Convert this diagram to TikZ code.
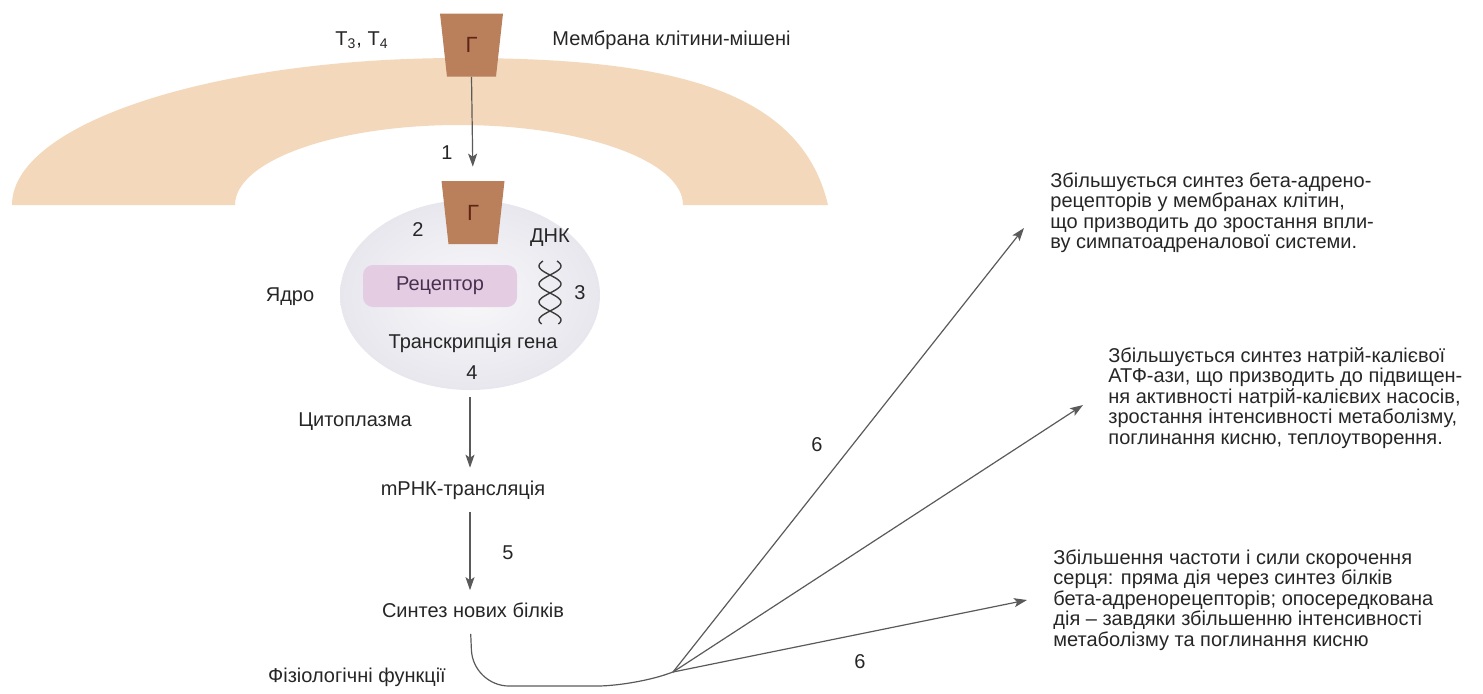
\documentclass[tikz,border=0pt]{standalone}
\usepackage{fontspec}
\setmainfont{Liberation Sans}
\usetikzlibrary{arrows.meta,shapes.geometric}

\definecolor{membr}{HTML}{F3D8BB}
\definecolor{horm}{HTML}{BA805C}
\definecolor{hormtxt}{HTML}{5E2514}
\definecolor{recfill}{HTML}{E4CDE3}
\definecolor{rectxt}{HTML}{4B2F50}
\definecolor{txt}{HTML}{262626}
\definecolor{linec}{HTML}{5A5A5A}
\definecolor{nucin}{HTML}{F8F8FA}
\definecolor{nucout}{HTML}{E8E7EE}

\tikzset{
  lbl/.style={font=\fontsize{10}{10.25}\selectfont, text=txt, inner sep=0pt},
  note/.style={lbl, align=left, anchor=west},
  tip/.style={-{Stealth[length=6.5pt,width=4.5pt,inset=1.5pt]}},
  flow/.style={draw=linec, line width=0.6pt, tip},
  hormone/.style={trapezium, trapezium angle=83.6, shape border rotate=180,
    trapezium stretches=true, minimum width=31.5pt, minimum height=31.5pt,
    fill=horm, inner sep=0pt, text=hormtxt, font=\fontsize{11}{11}\selectfont},
  helix/.style={draw=txt!90, line width=0.7pt}
}

\begin{document}
\begin{tikzpicture}[x=0.5pt,y=-0.5pt]
\useasboundingbox (0,0) rectangle (1483,693);

% cell membrane band
\fill[membr] (12,205) arc[start angle=180, end angle=270, x radius=447, y radius=147]
  .. controls (660,58) and (800,85) .. (828,205)
  -- (683,205) arc[start angle=0, end angle=-180, x radius=224, y radius=80] -- cycle;

% nucleus
\node[ellipse, shade, inner color=nucin, outer color=nucout, minimum width=130pt,
  minimum height=95pt, inner sep=0pt] (nuc) at (470,295) {};

% hormone outside and inside the cell
\node[hormone] (h1) at (471.5,45) {Г};
\node[hormone] (h2) at (473,212.5) {Г};

% receptor
\node[fill=recfill, rounded corners=5pt, minimum width=77pt, minimum height=21pt,
  inner sep=0pt, text=rectxt, font=\fontsize{10}{10}\selectfont] (rec) at (440,286) {Рецептор};

% DNA double helix
\draw[helix, domain=261:324, samples=60, smooth, variable=\t]
  plot ({550+11*sin(180*(\t-275)/18)}, \t);
\draw[helix, domain=261:324, samples=60, smooth, variable=\t]
  plot ({550-11*sin(180*(\t-275)/18)}, \t);

% labels
\node[lbl] (t34) at (362,40) {T\textsubscript{3}, T\textsubscript{4}};
\node[lbl, anchor=west] (mem) at (552,40) {Мембрана клітини-мішені};
\node[lbl] (n1) at (447,153) {1};
\node[lbl] (n2) at (418,230) {2};
\node[lbl] (dna) at (550,238) {ДНК};
\node[lbl] (n3) at (580,293) {3};
\node[lbl] (core) at (290,297) {Ядро};
\node[lbl] (tr) at (473,343) {Транскрипція гена};
\node[lbl] (n4) at (472,373) {4};
\node[lbl] (cyto) at (355,422) {Цитоплазма};
\node[lbl] (mrna) at (463,490) {mРНК-трансляція};
\node[lbl] (n5) at (508,553) {5};
\node[lbl] (syn) at (473,610) {Синтез нових білків};
\node[lbl] (phys) at (357,677) {Фізіологічні функції};
\node[lbl] (n6a) at (817,445) {6};
\node[lbl] (n6b) at (860,662) {6};

% effect descriptions
\node[note] (e1) at (1050,212.5) {Збільшується синтез бета-адрено-\\рецепторів у мембранах клітин,\\що призводить до зростання впли-\\ву симпатоадреналової системи.};
\node[note] (e2) at (1108,398) {Збільшується синтез натрій-калієвої\\АТФ-ази, що призводить до підвищен-\\ня активності натрій-калієвих насосів,\\зростання інтенсивності метаболізму,\\поглинання кисню, теплоутворення.};
\node[note] (e3) at (1053,600) {Збільшення частоти і сили скорочення\\серця: пряма дія через синтез білків\\бета-адренорецепторів; опосередкована\\дія – завдяки збільшенню інтенсивності\\метаболізму та поглинання кисню};

% signalling pathway
\draw[flow, shorten >=7pt] (h1.south) -- (h2.north);
\draw[flow, shorten <=3.5pt, shorten >=6.3pt] (nuc.south) -- (mrna.north -| nuc.south);
\draw[flow, shorten <=6pt, shorten >=6pt] (mrna.south -| nuc.south) -- (syn.north -| nuc.south);

% branching to physiological effects
\coordinate (fan) at (673,672);
\coordinate (a1) at (1024,228);
\coordinate (a2) at (1083,405);
\coordinate (a3) at (1027,600);
\draw[draw=linec, line width=0.6pt, rounded corners=18pt, shorten <=8pt]
  (syn.south -| nuc.south) -- (473,686) -- (633,686) -- (fan);
\draw[flow] (fan) -- (a1);
\draw[flow] (fan) -- (a2);
\draw[flow] (fan) -- (a3);
\end{tikzpicture}
\end{document}
